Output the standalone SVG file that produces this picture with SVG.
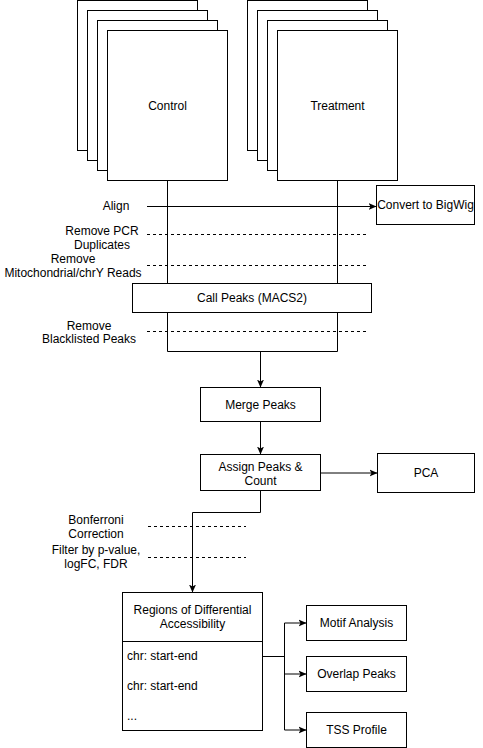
<svg xmlns="http://www.w3.org/2000/svg" width="483" height="748" viewBox="0 0 483 748">
<style>
.box{fill:#fff;stroke:#000;stroke-width:1}
.ln{fill:none;stroke:#000;stroke-width:1}
.dash{fill:none;stroke:#000;stroke-width:1;stroke-dasharray:3 3}
text{font-family:"Liberation Sans",Arial,Helvetica,sans-serif;font-size:12px;fill:#000}
.c{text-anchor:middle}
</style>
<defs>
<marker id="arr" markerWidth="8" markerHeight="8" refX="7.5" refY="4" orient="auto" markerUnits="userSpaceOnUse">
<path d="M0,0.5 L8,4 L0,7.5 L2,4 z" fill="#000"/>
</marker>
</defs>
<rect width="483" height="748" fill="#fff"/>
<g id="connectors">
<path class="ln" d="M167.5,180.5 V283.5"/>
<path class="ln" d="M337.5,180.5 V283.5"/>
<path class="ln" d="M167.5,312.5 V351.5 H337.5 V312.5"/>
<path class="ln" d="M147,206.5 H376" marker-end="url(#arr)"/>
<path class="dash" d="M147,234.5 H367"/>
<path class="dash" d="M147,265.5 H367"/>
<path class="dash" d="M147,331.5 H367"/>
<path class="ln" d="M260.5,351.5 V387" marker-end="url(#arr)"/>
<path class="ln" d="M260.5,421.5 V454" marker-end="url(#arr)"/>
<path class="ln" d="M320.5,473 H377" marker-end="url(#arr)"/>
<path class="ln" d="M260.5,490.5 V512.5 H192.5 V592" marker-end="url(#arr)"/>
<path class="dash" d="M148,526.5 H246"/>
<path class="dash" d="M148,557.5 H246"/>
<path class="ln" d="M262.5,656.5 H284.5"/>
<path class="ln" d="M284.5,623 V730"/>
<path class="ln" d="M284.5,623 H306" marker-end="url(#arr)"/>
<path class="ln" d="M284.5,674 H306" marker-end="url(#arr)"/>
<path class="ln" d="M284.5,730 H306" marker-end="url(#arr)"/>
<text class="c" x="116" y="210">Align</text>
<text class="c" x="102" y="235">Remove PCR</text>
<text class="c" x="102" y="248.5">Duplicates</text>
<text class="c" x="73" y="263">Remove</text>
<text class="c" x="73" y="277">Mitochondrial/chrY Reads</text>
<text class="c" x="89" y="329.5">Remove</text>
<text class="c" x="89" y="343">Blacklisted Peaks</text>
<text class="c" x="96" y="524">Bonferroni</text>
<text class="c" x="96" y="538">Correction</text>
<text class="c" x="96" y="554">Filter by p-value,</text>
<text class="c" x="96" y="568">logFC, FDR</text>
</g>
<g id="control">
<rect class="box" x="77.5" y="0.5" width="120" height="150"/>
<rect class="box" x="87.5" y="10.5" width="120" height="150"/>
<rect class="box" x="97.5" y="20.5" width="120" height="150"/>
<rect class="box" x="107.5" y="30.5" width="120" height="150"/>
<text class="c" x="167.5" y="110">Control</text>
</g>
<g id="treatment">
<rect class="box" x="247.5" y="0.5" width="120" height="150"/>
<rect class="box" x="257.5" y="10.5" width="120" height="150"/>
<rect class="box" x="267.5" y="20.5" width="120" height="150"/>
<rect class="box" x="277.5" y="30.5" width="120" height="150"/>
<text class="c" x="337.5" y="110">Treatment</text>
</g>
<g id="bigwig">
<rect class="box" x="376.5" y="185.5" width="98" height="39"/>
<text class="c" x="425.5" y="209">Convert to BigWig</text>
</g>
<g id="callpeaks">
<rect class="box" x="132.5" y="283.5" width="239" height="29"/>
<text class="c" x="252" y="302">Call Peaks (MACS2)</text>
</g>
<g id="merge">
<rect class="box" x="200.5" y="387.5" width="120" height="34"/>
<text class="c" x="260.5" y="408.5">Merge Peaks</text>
</g>
<g id="assign">
<rect class="box" x="200.5" y="454.5" width="120" height="36"/>
<text class="c" x="260.5" y="471">Assign Peaks &amp;</text>
<text class="c" x="260.5" y="485">Count</text>
</g>
<g id="pca">
<rect class="box" x="377.5" y="453.5" width="97" height="39"/>
<text class="c" x="426" y="477">PCA</text>
</g>
<g id="regions">
<rect class="box" x="122.5" y="592.5" width="140" height="138"/>
<path class="ln" d="M122.5,641.5 H262.5"/>
<text class="c" x="192.5" y="614">Regions of Differential</text>
<text class="c" x="192.5" y="628">Accessibility</text>
<text x="127" y="660">chr: start-end</text>
<text x="127" y="690">chr: start-end</text>
<text x="127" y="720">...</text>
</g>
<g id="motif">
<rect class="box" x="306.5" y="605.5" width="100" height="35"/>
<text class="c" x="356.5" y="627">Motif Analysis</text>
</g>
<g id="overlap">
<rect class="box" x="306.5" y="656.5" width="100" height="35"/>
<text class="c" x="356.5" y="678">Overlap Peaks</text>
</g>
<g id="tss">
<rect class="box" x="306.5" y="712.5" width="100" height="35"/>
<text class="c" x="356.5" y="734">TSS Profile</text>
</g>
</svg>
